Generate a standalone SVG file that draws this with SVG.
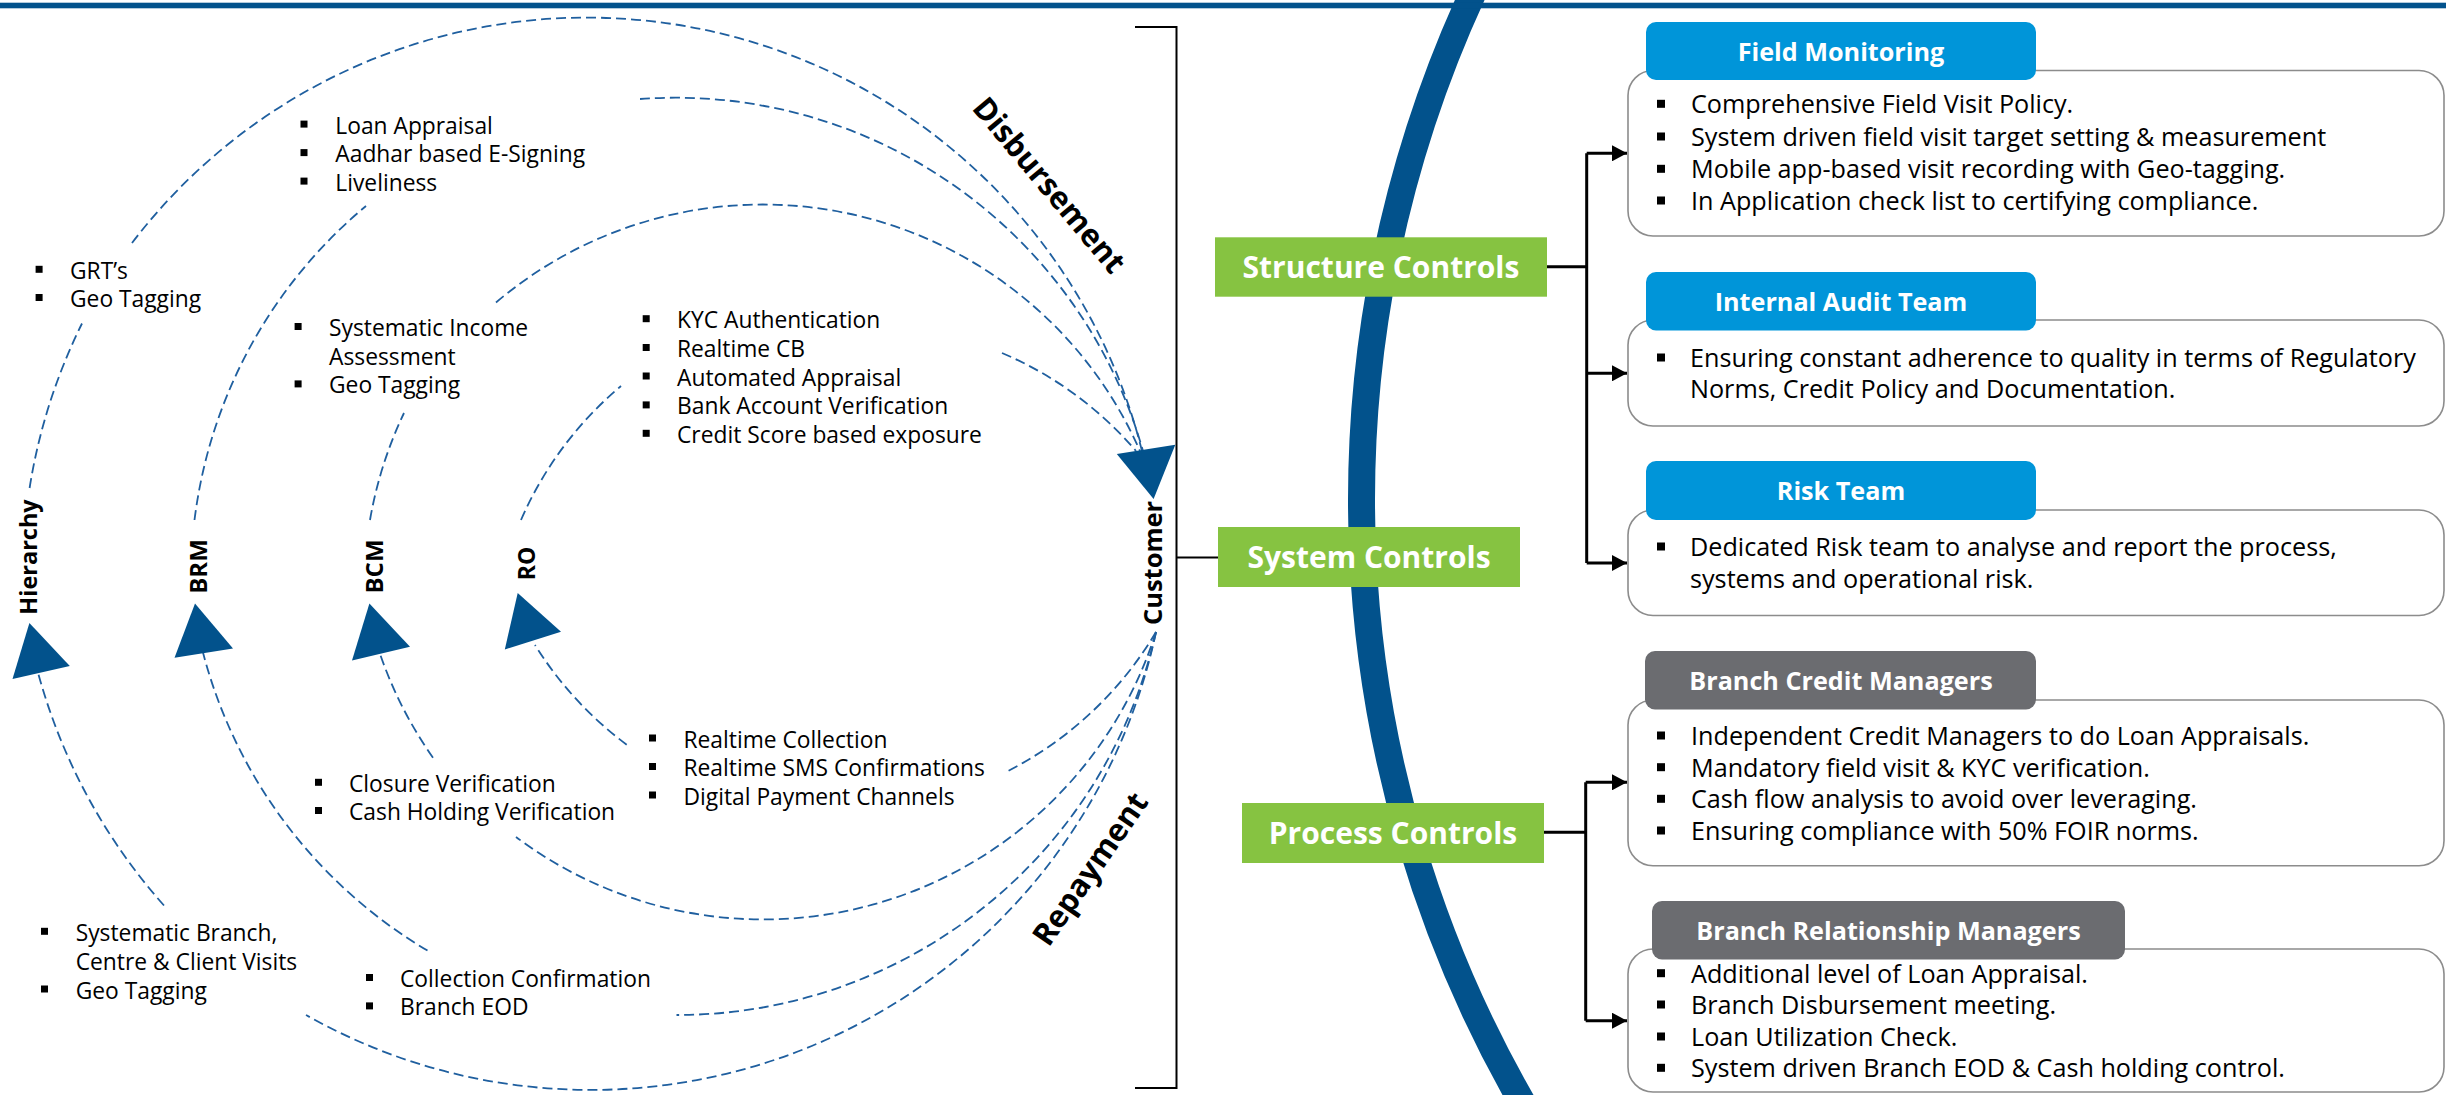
<svg xmlns="http://www.w3.org/2000/svg" width="2446" height="1095" viewBox="0 0 2446 1095">
<defs>
<style>
text{font-family:"Open Sans","Noto Sans","Liberation Sans",sans-serif;fill:#000}
.l{font-size:22.8px}
.r{font-size:25.2px}
.lab{font-weight:700;text-anchor:middle}
.hd{font-weight:700;font-size:25.2px;fill:#fff;text-anchor:middle}
.gt{font-weight:700;font-size:30px;fill:#fff;text-anchor:middle}
.dash{fill:none;stroke:#1f5f9f;stroke-width:1.8;stroke-dasharray:10 5}
.conn{fill:none;stroke:#000;stroke-width:3}
.brk{fill:none;stroke:#000;stroke-width:2}
.box{fill:#fff;stroke:#8c8c8c;stroke-width:1.6}
.tri{fill:#02528c}
.green{fill:#86c341}
.hblue{fill:#0095d9}
.hgray{fill:#6b6c70}
</style>
<rect id="bl" width="7" height="7" fill="#000"/>
<rect id="br" width="8" height="8" fill="#000"/>
<marker id="ah" markerWidth="16" markerHeight="16" refX="15" refY="8" orient="auto" markerUnits="userSpaceOnUse"><path d="M0,0 L15,8 L0,16 z" fill="#000"/></marker>
</defs>
<rect width="2446" height="1095" fill="#fff"/>

<!-- big arc -->
<path d="M1474.3,-10 A1209.5,1209.5 0 0 0 1523.7,1105" fill="none" stroke="#02528c" stroke-width="27"/>
<rect x="0" y="2.7" width="2446" height="5.6" fill="#02528c"/>

<!-- connectors -->
<g id="connectors">
<g id="flow-arcs">
<path class="dash" d="M29.6,488 A572,572 0 0 1 82,323.5"/>
<path class="dash" d="M132,243 A572,572 0 0 1 1142,451"/>
<path class="dash" d="M194.5,520 A486,486 0 0 1 366,206"/>
<path class="dash" d="M640,99 A486,486 0 0 1 1143,451"/>
<path class="dash" d="M370,520 A412,412 0 0 1 404,413"/>
<path class="dash" d="M496,302.5 A412,412 0 0 1 1140,451"/>
<path class="dash" d="M521,520 A364,364 0 0 1 621,386"/>
<path class="dash" d="M1002,353 A364,364 0 0 1 1136,451"/>
<path class="dash" d="M1156,632 A578,578 0 0 1 306,1015"/>
<path class="dash" d="M164,905.5 A578,578 0 0 1 38.4,674"/>
<path class="dash" d="M1156,632 A491,491 0 0 1 676.5,1015"/>
<path class="dash" d="M427.5,950.6 A491,491 0 0 1 203,652.6"/>
<path class="dash" d="M1156,632 A412,412 0 0 1 516,837"/>
<path class="dash" d="M433,757.7 A412,412 0 0 1 379.6,652.6"/>
<path class="dash" d="M1156,632 A366,366 0 0 1 1006,772"/>
<path class="dash" d="M626.7,744.7 A366,366 0 0 1 535,645"/>
</g>
<g id="arrowheads">
<polygon class="tri" points="29.4,623 69.8,666 12.5,679"/>
<polygon class="tri" points="195,603.5 233,648.6 174.5,657.7"/>
<polygon class="tri" points="369.4,603.5 410,646.7 352,660.4"/>
<polygon class="tri" points="517.7,593 561,631.8 504.8,649.4"/>
<polygon class="tri" points="1116.8,454 1175.3,444.8 1153.6,499"/>
</g>
<path class="brk" d="M1135,27 H1176.5 V1088 H1135 M1176.5,557.5 H1218"/>
<path class="conn" d="M1547,266.7 H1586.7 M1586.7,153.3 V563"/>
<path class="conn" d="M1586.7,153.3 H1627" marker-end="url(#ah)"/>
<path class="conn" d="M1586.7,373.3 H1627" marker-end="url(#ah)"/>
<path class="conn" d="M1586.7,563 H1627" marker-end="url(#ah)"/>
<path class="conn" d="M1544,832.3 H1585.7 M1585.7,782.3 V1020.7"/>
<path class="conn" d="M1585.7,782.3 H1627" marker-end="url(#ah)"/>
<path class="conn" d="M1585.7,1020.7 H1627" marker-end="url(#ah)"/>
</g>

<!-- left labels -->
<g id="lbl-hierarchy"><text class="lab" font-size="23.5" transform="translate(37,557) rotate(-90)">Hierarchy</text></g>
<g id="lbl-brm"><text class="lab" font-size="24" transform="translate(206.5,566.5) rotate(-90)">BRM</text></g>
<g id="lbl-bcm"><text class="lab" font-size="24" transform="translate(382.5,566.5) rotate(-90)">BCM</text></g>
<g id="lbl-ro"><text class="lab" font-size="23" transform="translate(534.5,563.5) rotate(-90)">RO</text></g>
<g id="lbl-customer"><text class="lab" font-size="25.5" transform="translate(1162,563) rotate(-90)">Customer</text></g>
<g id="lbl-disbursement"><text class="lab" font-size="31" transform="translate(1041,192) rotate(50)">Disbursement</text></g>
<g id="lbl-repayment"><text class="lab" font-size="31" transform="translate(1099,875) rotate(-55.4)">Repayment</text></g>

<!-- left text blocks -->
<g id="txt-grt">
<use href="#bl" x="35.6" y="265.8"/><text class="l" x="70" y="278.8">GRT’s</text>
<use href="#bl" x="35.6" y="294"/><text class="l" x="70" y="307">Geo Tagging</text>
</g>
<g id="txt-loan">
<use href="#bl" x="300.5" y="120.6"/><text class="l" x="335.3" y="133.6">Loan Appraisal</text>
<use href="#bl" x="300.5" y="149.1"/><text class="l" x="335.3" y="162.1">Aadhar based E-Signing</text>
<use href="#bl" x="300.5" y="177.6"/><text class="l" x="335.3" y="190.6">Liveliness</text>
</g>
<g id="txt-income">
<use href="#bl" x="294.6" y="323"/><text class="l" x="329" y="336">Systematic Income</text>
<text class="l" x="329" y="364.6">Assessment</text>
<use href="#bl" x="294.6" y="380.4"/><text class="l" x="329" y="393.4">Geo Tagging</text>
</g>
<g id="txt-kyc">
<use href="#bl" x="642.7" y="315.2"/><text class="l" x="677" y="328.2">KYC Authentication</text>
<use href="#bl" x="642.7" y="344"/><text class="l" x="677" y="357">Realtime CB</text>
<use href="#bl" x="642.7" y="372.5"/><text class="l" x="677" y="385.5">Automated Appraisal</text>
<use href="#bl" x="642.7" y="401.4"/><text class="l" x="677" y="414.4">Bank Account Verification</text>
<use href="#bl" x="642.7" y="429.8"/><text class="l" x="677" y="442.8">Credit Score based exposure</text>
</g>
<g id="txt-collection">
<use href="#bl" x="649" y="734.5"/><text class="l" x="683.5" y="747.5">Realtime Collection</text>
<use href="#bl" x="649" y="763"/><text class="l" x="683.5" y="776">Realtime SMS Confirmations</text>
<use href="#bl" x="649" y="791.5"/><text class="l" x="683.5" y="804.5">Digital Payment Channels</text>
</g>
<g id="txt-closure">
<use href="#bl" x="315" y="778.8"/><text class="l" x="349" y="791.8">Closure Verification</text>
<use href="#bl" x="315" y="807"/><text class="l" x="349" y="820">Cash Holding Verification</text>
</g>
<g id="txt-branchvisits">
<use href="#bl" x="41" y="927.8"/><text class="l" x="75.7" y="940.8">Systematic Branch,</text>
<text class="l" x="75.7" y="969.5">Centre &amp; Client Visits</text>
<use href="#bl" x="41" y="985.5"/><text class="l" x="75.7" y="998.5">Geo Tagging</text>
</g>
<g id="txt-eod">
<use href="#bl" x="366" y="974"/><text class="l" x="400" y="987">Collection Confirmation</text>
<use href="#bl" x="366" y="1002.4"/><text class="l" x="400" y="1015.4">Branch EOD</text>
</g>

<!-- green control boxes -->
<g id="structure-controls"><rect class="green" x="1215" y="237.3" width="332" height="59.4"/><text class="gt" x="1381" y="278">Structure Controls</text></g>
<g id="system-controls"><rect class="green" x="1218" y="527" width="302" height="60"/><text class="gt" x="1369" y="568.3">System Controls</text></g>
<g id="process-controls"><rect class="green" x="1242" y="803" width="302" height="60"/><text class="gt" x="1393" y="844">Process Controls</text></g>

<!-- right boxes -->
<g id="field-monitoring">
<rect class="box" x="1628" y="70.5" width="816" height="165.5" rx="25"/>
<rect class="hblue" x="1646" y="22" width="390" height="58" rx="10"/>
<text class="hd" x="1841" y="61">Field Monitoring</text>
<use href="#br" x="1657" y="99.8"/><text class="r" x="1691" y="113.3">Comprehensive Field Visit Policy.</text>
<use href="#br" x="1657" y="132.5"/><text class="r" x="1691" y="146">System driven field visit target setting &amp; measurement</text>
<use href="#br" x="1657" y="164.8"/><text class="r" x="1691" y="178.3">Mobile app-based visit recording with Geo-tagging.</text>
<use href="#br" x="1657" y="196.5"/><text class="r" x="1691" y="210">In Application check list to certifying compliance.</text>
</g>
<g id="internal-audit">
<rect class="box" x="1628" y="320" width="816" height="106" rx="25"/>
<rect class="hblue" x="1646" y="272" width="390" height="58.5" rx="10"/>
<text class="hd" x="1841" y="311">Internal Audit Team</text>
<use href="#br" x="1657" y="353.5"/><text class="r" x="1690" y="367">Ensuring constant adherence to quality in terms of Regulatory</text>
<text class="r" x="1690" y="398">Norms, Credit Policy and Documentation.</text>
</g>
<g id="risk-team">
<rect class="box" x="1628" y="510" width="816" height="105.5" rx="25"/>
<rect class="hblue" x="1646" y="461" width="390" height="59" rx="10"/>
<text class="hd" x="1841" y="500.3">Risk Team</text>
<use href="#br" x="1657" y="542.5"/><text class="r" x="1690" y="556">Dedicated Risk team to analyse and report the process,</text>
<text class="r" x="1690" y="588">systems and operational risk.</text>
</g>
<g id="branch-credit">
<rect class="box" x="1628" y="700" width="816" height="165.7" rx="25"/>
<rect class="hgray" x="1645" y="651" width="391" height="58.5" rx="10"/>
<text class="hd" x="1841" y="690.3">Branch Credit Managers</text>
<use href="#br" x="1657" y="731.5"/><text class="r" x="1691" y="745">Independent Credit Managers to do Loan Appraisals.</text>
<use href="#br" x="1657" y="763.2"/><text class="r" x="1691" y="776.7">Mandatory field visit &amp; KYC verification.</text>
<use href="#br" x="1657" y="794.8"/><text class="r" x="1691" y="808.3">Cash flow analysis to avoid over leveraging.</text>
<use href="#br" x="1657" y="826.5"/><text class="r" x="1691" y="840">Ensuring compliance with 50% FOIR norms.</text>
</g>
<g id="branch-relationship">
<rect class="box" x="1628" y="949" width="816" height="143" rx="25"/>
<rect class="hgray" x="1652" y="901" width="473" height="58.5" rx="10"/>
<text class="hd" x="1888.5" y="940.3">Branch Relationship Managers</text>
<use href="#br" x="1657" y="969.2"/><text class="r" x="1691" y="982.7">Additional level of Loan Appraisal.</text>
<use href="#br" x="1657" y="1000.5"/><text class="r" x="1691" y="1014">Branch Disbursement meeting.</text>
<use href="#br" x="1657" y="1032.5"/><text class="r" x="1691" y="1046">Loan Utilization Check.</text>
<use href="#br" x="1657" y="1063.8"/><text class="r" x="1691" y="1077.3">System driven Branch EOD &amp; Cash holding control.</text>
</g>
</svg>
